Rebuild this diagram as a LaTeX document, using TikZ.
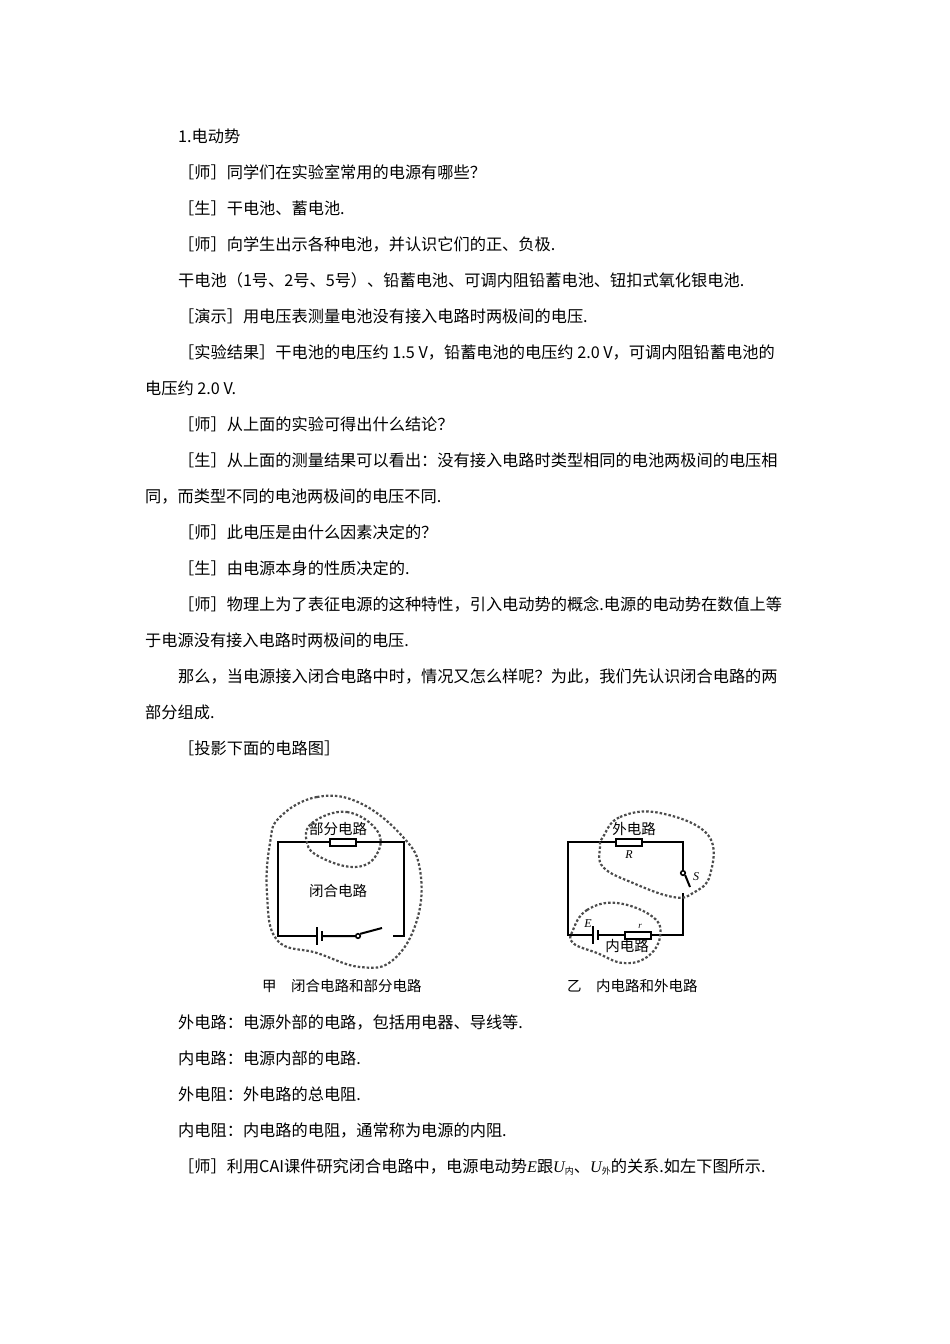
\documentclass[tikz,border=0pt]{standalone}
\usepackage{fontspec}
\usetikzlibrary{calc}
\setmainfont{Noto Sans CJK SC}
\newfontfamily\itf{Liberation Serif}
\newcommand{\iv}[1]{{\itf\itshape #1}}
\begin{document}
\begin{tikzpicture}[x=1pt,y=-1pt,
  txt/.style={anchor=base west,inner sep=0pt,font=\fontsize{16.2}{18}\selectfont},
  captxt/.style={anchor=base west,inner sep=0pt,font=\fontsize{14.5}{16}\selectfont},
  lbl/.style={inner sep=0pt,font=\fontsize{14.5}{15}\selectfont},
  wire/.style={line width=2pt},
  loop/.style={line width=2.2pt,dash pattern=on 2.5pt off 2pt,black!70},
  res/.style={draw,line width=2pt,fill=white,minimum width=26pt,minimum height=7pt,inner sep=0pt}]
\useasboundingbox (0,0) rectangle (950,1344);
\node[txt] (l1) at (178,142) {1.电动势};
\node[txt] (l2) at (178,178) {［师］同学们在实验室常用的电源有哪些？};
\node[txt] (l3) at (178,214) {［生］干电池、蓄电池.};
\node[txt] (l4) at (178,250) {［师］向学生出示各种电池，并认识它们的正、负极.};
\node[txt] (l5) at (178,286) {干电池（1号、2号、5号）、铅蓄电池、可调内阻铅蓄电池、钮扣式氧化银电池.};
\node[txt] (l6) at (178,322) {［演示］用电压表测量电池没有接入电路时两极间的电压.};
\node[txt] (l7) at (178,358) {［实验结果］干电池的电压约 1.5 V，铅蓄电池的电压约 2.0 V，可调内阻铅蓄电池的};
\node[txt] (l8) at (145,394) {电压约 2.0 V.};
\node[txt] (l9) at (178,430) {［师］从上面的实验可得出什么结论？};
\node[txt] (l10) at (178,466) {［生］从上面的测量结果可以看出：没有接入电路时类型相同的电池两极间的电压相};
\node[txt] (l11) at (145,502) {同，而类型不同的电池两极间的电压不同.};
\node[txt] (l12) at (178,538) {［师］此电压是由什么因素决定的？};
\node[txt] (l13) at (178,574) {［生］由电源本身的性质决定的.};
\node[txt] (l14) at (178,610) {［师］物理上为了表征电源的这种特性，引入电动势的概念.电源的电动势在数值上等};
\node[txt] (l15) at (145,646) {于电源没有接入电路时两极间的电压.};
\node[txt] (l16) at (178,682) {那么，当电源接入闭合电路中时，情况又怎么样呢？为此，我们先认识闭合电路的两};
\node[txt] (l17) at (145,718) {部分组成.};
\node[txt] (l18) at (178,754) {［投影下面的电路图］};
\node[txt] (l19) at (178,1028) {外电路：电源外部的电路，包括用电器、导线等.};
\node[txt] (l20) at (178,1064) {内电路：电源内部的电路.};
\node[txt] (l21) at (178,1100) {外电阻：外电路的总电阻.};
\node[txt] (l22) at (178,1136) {内电阻：内电路的电阻，通常称为电源的内阻.};
\node[txt] (l23) at (178,1172) {［师］利用CAI课件研究闭合电路中，电源电动势\iv{E}跟\iv{U}\raisebox{-2pt}{\fontsize{9}{9}\selectfont 内}、\iv{U}\raisebox{-2pt}{\fontsize{9}{9}\selectfont 外}的关系.如左下图所示.};
% captions
\node[captxt] (c1) at (262,991) {甲\quad 闭合电路和部分电路};
\node[captxt] (c2) at (567,991) {乙\quad 内电路和外电路};
% ---- left circuit ----
\coordinate (a1) at (278,842); \coordinate (a2) at (404,842);
\coordinate (a3) at (404,936); \coordinate (a4) at (278,936);
\node[res] (ra) at (343,842) {};
\coordinate (bp1) at (317,936); \coordinate (bp2) at (322,936);
\node[circle,draw,line width=1.6pt,inner sep=1.6pt] (sw) at (358,936) {};
\coordinate (swe) at (382,928); \coordinate (sr) at (393,936);
\draw[wire] (bp2) -- (sw.west) (sw.north east) -- (swe);
\draw[wire] (ra.east) -- (a2) -- (a3) -- (sr);
\draw[wire] (ra.west) -- (a1) -- (a4) -- (bp1);
\draw[wire] ($(bp1)+(0,-9)$) -- ($(bp1)+(0,9)$);
\draw[wire] ($(bp2)+(0,-5)$) -- ($(bp2)+(0,5)$);
\node[lbl] (pa) at (338,829) {部分电路};
\node[lbl] (bh) at (338,891) {闭合电路};
\draw[loop] plot[smooth cycle,tension=0.7] coordinates{(280,817)(317,797)(360,803)(403,837)(420,870)(417,920)(393,960)(360,967)(317,953)(277,940)(267,893)(270,843)};
\draw[loop] plot[smooth cycle,tension=0.7] coordinates{(312,823)(347,812)(378,832)(375,857)(353,867)(320,857)(307,843)};
% ---- right circuit ----
\coordinate (b1) at (568,842); \coordinate (b2) at (683,842);
\coordinate (b3) at (683,935); \coordinate (b4) at (568,935);
\node[res] (rb) at (629,842) {};
\node[circle,draw,line width=1.6pt,inner sep=1.6pt] (sw2) at (683,873) {};
\coordinate (swe2) at (690,887); \coordinate (sb2) at (683,893);
\node[res] (rr) at (638,935) {};
\coordinate (cp1) at (593,935); \coordinate (cp2) at (598,935);
\draw[wire] (rb.west) -- (b1) -- (b4) -- (cp1);
\draw[wire] (rb.east) -- (b2) -- (sw2.north);
\draw[wire] (sw2.south east) -- (swe2);
\draw[wire] (sb2) -- (b3) -- (rr.east);
\draw[wire] (rr.west) -- (cp2);
\draw[wire] ($(cp1)+(0,-9)$) -- ($(cp1)+(0,9)$);
\draw[wire] ($(cp2)+(0,-5)$) -- ($(cp2)+(0,5)$);
\node[lbl] (wa) at (634,829) {外电路};
\node[lbl] (na) at (627,946) {内电路};
\node[lbl,font=\fontsize{12}{12}\selectfont] (lR) at (629,855) {\iv{R}};
\node[lbl,font=\fontsize{12}{12}\selectfont] (lS) at (696,877) {\iv{S}};
\node[lbl,font=\fontsize{12}{12}\selectfont] (lE) at (588,924) {\iv{E}};
\node[lbl,font=\fontsize{9}{9}\selectfont] (lr) at (640,926) {\iv{r}};
\draw[loop] plot[smooth cycle,tension=0.7] coordinates{(603,837)(620,817)(660,813)(708,835)(710,875)(693,893)(673,897)(633,883)(603,867)(600,847)};
\draw[loop] plot[smooth cycle,tension=0.7] coordinates{(573,930)(587,910)(617,903)(653,917)(660,937)(647,957)(623,963)(597,953)(573,943)};
\end{tikzpicture}
\end{document}
